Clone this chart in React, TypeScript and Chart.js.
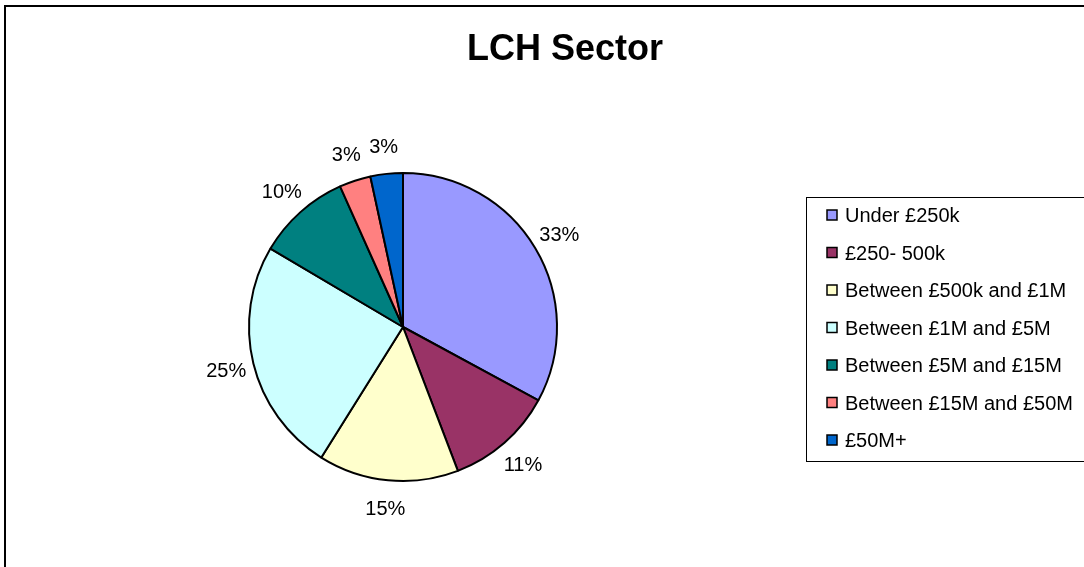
import React, { useEffect, useRef } from "react";
import { Chart, registerables } from "chart.js";

Chart.register(...registerables);

const TITLE = "LCH Sector";
const categories = [
  "Under £250k",
  "£250- 500k",
  "Between £500k and £1M",
  "Between £1M and £5M",
  "Between £5M and £15M",
  "Between £15M and £50M",
  "£50M+",
];
const shares = [32.9, 11.3, 14.7, 24.6, 9.8, 3.3, 3.4];
const colors = ["#9999FF", "#993366", "#FFFFCC", "#CCFFFF", "#008080", "#FF8080", "#0066CC"];

const FONT = "'Liberation Sans', Arial, Helvetica, sans-serif";

const decorPlugin = {
  id: "decor",
  afterDraw(chart: any) {
    const ctx = chart.ctx as CanvasRenderingContext2D;
    ctx.save();
    // outer chart frame (only left/top visible)
    ctx.strokeStyle = "#000";
    ctx.lineWidth = 2;
    ctx.strokeRect(5, 6, 3000, 3000);

    // title
    ctx.fillStyle = "#000";
    ctx.font = `bold 36px ${FONT}`;
    ctx.textAlign = "center";
    ctx.textBaseline = "alphabetic";
    ctx.fillText(TITLE, 565, 60);

    // percentage labels
    const meta = chart.getDatasetMeta(0);
    const data = chart.data.datasets[0].data as number[];
    const total = data.reduce((a, b) => a + b, 0);
    ctx.font = `20px ${FONT}`;
    meta.data.forEach((arc: any, i: number) => {
      const mid = (arc.startAngle + arc.endAngle) / 2;
      const r = arc.outerRadius + 28;
      const x = arc.x + Math.cos(mid) * r;
      const y = arc.y + Math.sin(mid) * r;
      ctx.fillText(Math.round((data[i] / total) * 100) + "%", x, y + 7);
    });

    // legend box
    ctx.lineWidth = 1;
    ctx.strokeStyle = "#000";
    ctx.strokeRect(806.5, 197.5, 400, 264);
    ctx.textAlign = "left";
    categories.forEach((label, i) => {
      const base = 222 + i * 37.5;
      ctx.fillStyle = colors[i];
      ctx.fillRect(827, base - 12, 10, 10);
      ctx.lineWidth = 1.5;
      ctx.strokeStyle = "#000";
      ctx.strokeRect(827, base - 12, 10, 10);
      ctx.fillStyle = "#000";
      ctx.font = `20px ${FONT}`;
      ctx.fillText(label, 845, base);
    });
    ctx.restore();
  },
};

export default function App() {
  const ref = useRef<HTMLCanvasElement | null>(null);
  useEffect(() => {
    if (!ref.current) return;
    const chart = new Chart(ref.current, {
      type: "pie",
      data: {
        labels: categories,
        datasets: [
          {
            data: shares,
            backgroundColor: colors,
            borderColor: "#000",
            borderWidth: 2,
          },
        ],
      },
      options: {
        responsive: false,
        animation: false,
        devicePixelRatio: 1,
        layout: { padding: { left: 248, right: 526, top: 172, bottom: 85 } },
        plugins: {
          legend: { display: false },
          title: { display: false },
          tooltip: { enabled: false },
        },
      },
      plugins: [decorPlugin],
    });
    return () => chart.destroy();
  }, []);
  return (
    <div style={{ position: "absolute", left: 0, top: 0, width: 1084, height: 567, background: "#fff" }}>
      <canvas ref={ref} width={1084} height={567} />
    </div>
  );
}
